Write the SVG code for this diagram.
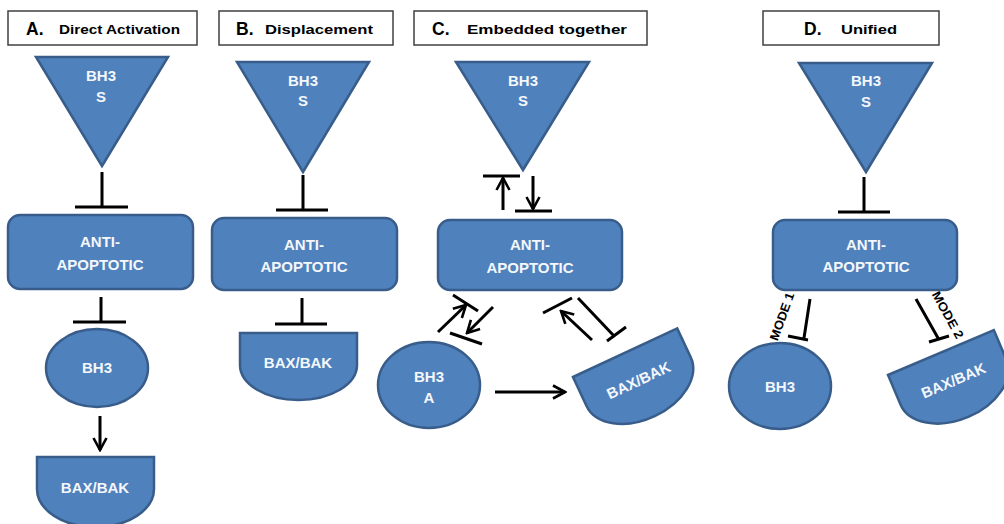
<svg xmlns="http://www.w3.org/2000/svg" width="1004" height="524" viewBox="0 0 1004 524">
<style>
.title{fill:#fff;stroke:#404040;stroke-width:1.5}
.tl{font-family:"Liberation Sans",Arial,sans-serif;font-weight:bold;fill:#000}
.shape{fill:#4f81bd;stroke:#385d8a;stroke-width:2.5}
.lbl{font-family:"Liberation Sans",Arial,sans-serif;font-weight:bold;font-size:15px;fill:#f4f7fb;text-anchor:middle}
.ln{stroke:#000;stroke-width:3;fill:none;stroke-linecap:butt}
.mode{font-family:"Liberation Sans",Arial,sans-serif;font-weight:bold;font-size:12.5px;fill:#000;text-anchor:middle}
</style>
<defs>
<marker id="arr" viewBox="0 0 16 16" refX="14" refY="8" markerWidth="16" markerHeight="16" markerUnits="userSpaceOnUse" orient="auto">
<path d="M2,1.5 L14,8 L2,14.5" fill="none" stroke="#000" stroke-width="2.6"/>
</marker>
</defs>
<rect width="1004" height="524" fill="#fff"/>

<g id="titleA"><rect class="title" x="8" y="11" width="189" height="34"/><text class="tl" x="26" y="35" font-size="17.5">A.</text><text class="tl" x="59" y="34" font-size="13.5" textLength="121" lengthAdjust="spacingAndGlyphs">Direct Activation</text></g>
<g id="titleB"><rect class="title" x="219" y="11" width="174" height="34"/><text class="tl" x="236" y="35" font-size="17.5">B.</text><text class="tl" x="265" y="34" font-size="13.5" textLength="108" lengthAdjust="spacingAndGlyphs">Displacement</text></g>
<g id="titleC"><rect class="title" x="414" y="11" width="233" height="34"/><text class="tl" x="432" y="35" font-size="17.5">C.</text><text class="tl" x="467" y="34" font-size="13.5" textLength="160" lengthAdjust="spacingAndGlyphs">Embedded together</text></g>
<g id="titleD"><rect class="title" x="763" y="11" width="176" height="34"/><text class="tl" x="804" y="35" font-size="17.5">D.</text><text class="tl" x="841" y="34" font-size="13.5" textLength="56" lengthAdjust="spacingAndGlyphs">Unified</text></g>

<!-- Panel A -->
<g id="A_bh3s"><polygon class="shape" points="36,57 168,57 102,166"/><text class="lbl" x="101" y="81">BH3</text><text class="lbl" x="101" y="102">S</text></g>
<g id="A_anti"><rect class="shape" x="8" y="215" width="185" height="74" rx="12"/><text class="lbl" x="100" y="247">ANTI-</text><text class="lbl" x="100" y="270">APOPTOTIC</text></g>
<g id="A_bh3"><ellipse class="shape" cx="97" cy="368" rx="51" ry="39"/><text class="lbl" x="97" y="373">BH3</text></g>
<g id="A_baxbak"><path class="shape" d="M37,457 H154 V489 A58.5,38 0 0 1 37,489 Z"/><text class="lbl" x="95" y="493">BAX/BAK</text></g>

<!-- Panel B -->
<g id="B_bh3s"><polygon class="shape" points="237,62 369,62 303,172"/><text class="lbl" x="303" y="86">BH3</text><text class="lbl" x="303" y="106">S</text></g>
<g id="B_anti"><rect class="shape" x="212" y="218" width="185" height="72" rx="12"/><text class="lbl" x="304" y="250">ANTI-</text><text class="lbl" x="304" y="272">APOPTOTIC</text></g>
<g id="B_baxbak"><path class="shape" d="M240,333 H357 V365 A58.5,35 0 0 1 240,365 Z"/><text class="lbl" x="298" y="368">BAX/BAK</text></g>

<!-- Panel C -->
<g id="C_bh3s"><polygon class="shape" points="456,62 589,62 523,170"/><text class="lbl" x="523" y="86">BH3</text><text class="lbl" x="523" y="106">S</text></g>
<g id="C_anti"><rect class="shape" x="438" y="220" width="184" height="70" rx="12"/><text class="lbl" x="530" y="250">ANTI-</text><text class="lbl" x="530" y="273">APOPTOTIC</text></g>
<g id="C_bh3a"><ellipse class="shape" cx="429" cy="385" rx="51" ry="43"/><text class="lbl" x="429" y="382">BH3</text><text class="lbl" x="429" y="403">A</text></g>
<g id="C_baxbak" transform="translate(573,377) rotate(-25)"><path class="shape" d="M0,0 H115 V32 A57.5,38 0 0 1 0,32 Z"/><text class="lbl" x="58" y="36">BAX/BAK</text></g>

<!-- Panel D -->
<g id="D_bh3s"><polygon class="shape" points="799,63 932,63 866,172"/><text class="lbl" x="866" y="86">BH3</text><text class="lbl" x="866" y="107">S</text></g>
<g id="D_anti"><rect class="shape" x="773" y="220" width="184" height="70" rx="12"/><text class="lbl" x="866" y="250">ANTI-</text><text class="lbl" x="866" y="272">APOPTOTIC</text></g>
<g id="D_bh3"><ellipse class="shape" cx="780" cy="386" rx="51" ry="43"/><text class="lbl" x="780" y="392">BH3</text></g>
<g id="D_baxbak" transform="translate(888,375) rotate(-23)"><path class="shape" d="M0,0 H115 V32 A57.5,38 0 0 1 0,32 Z"/><text class="lbl" x="58" y="36">BAX/BAK</text></g>

<g id="connectors">
<!-- A -->
<path class="ln" d="M102,172 V207 M75,207 H128"/>
<path class="ln" d="M101,297 V322 M73,322 H126"/>
<path class="ln" d="M100,416 V450" marker-end="url(#arr)"/>
<!-- B -->
<path class="ln" d="M303,175 V210 M276,210 H328"/>
<path class="ln" d="M302,298 V324 M275,324 H327"/>
<!-- C -->
<path class="ln" d="M483,176 H520"/>
<path class="ln" d="M503,210 V178" marker-end="url(#arr)"/>
<path class="ln" d="M533,176 V209" marker-end="url(#arr)"/>
<path class="ln" d="M515,211 H552"/>
<path class="ln" d="M438,332 L466,305" marker-end="url(#arr)"/>
<path class="ln" d="M453,295 L478,311"/>
<path class="ln" d="M493,307 L467,333" marker-end="url(#arr)"/>
<path class="ln" d="M450,333 L482,344"/>
<path class="ln" d="M592,340 L561,311" marker-end="url(#arr)"/>
<path class="ln" d="M543,313 L572,298"/>
<path class="ln" d="M578,298 L615,337 M607,341 L626,327"/>
<path class="ln" d="M495,392 H565" marker-end="url(#arr)"/>
<!-- D -->
<path class="ln" d="M864,177 V212 M838,212 H890"/>
<path class="ln" d="M810,299 L804,338 M788,336 L808,340"/>
<path class="ln" d="M916,299 L938,338 M929,342 L949,336"/>
<text class="mode" transform="translate(786,318) rotate(-70)" textLength="50" lengthAdjust="spacingAndGlyphs">MODE 1</text>
<text class="mode" transform="translate(944,317) rotate(61)" textLength="52" lengthAdjust="spacingAndGlyphs">MODE 2</text>
</g>
</svg>
